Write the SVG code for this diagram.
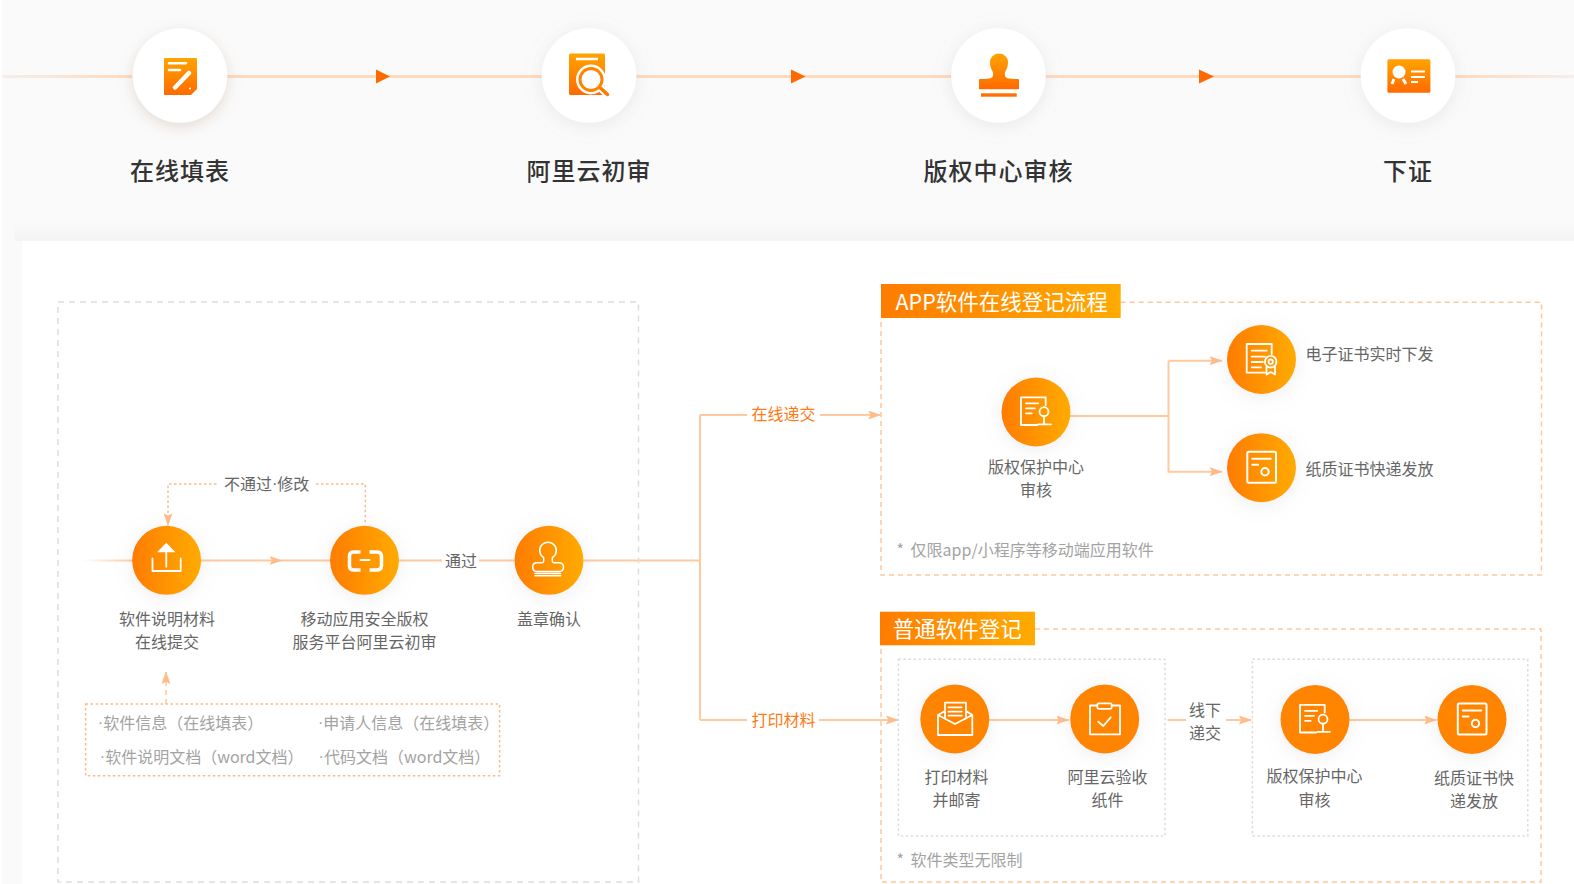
<svg xmlns="http://www.w3.org/2000/svg" width="1574" height="884" viewBox="0 0 1574 884">
<style>
text{font-family:"Noto Sans CJK SC","Noto Sans",sans-serif;dominant-baseline:central}
.m{text-anchor:middle}
.top{font-size:24px;letter-spacing:1px;fill:#333;font-weight:500;text-anchor:middle}
.lb{font-size:16px;fill:#666}
.gr{font-size:16px;fill:#a3a3a3}
.nt{word-spacing:3px}
.or{font-size:16px;fill:#ff7a14}
.ti{font-size:21.5px;fill:#fff}
.dot{font-family:"Liberation Sans",sans-serif}
.c{fill:none;stroke:#ffc9a0;stroke-width:2}
.tl{fill:none;stroke:#ffd9bc;stroke-width:3}
.ah{fill:#ffbb8a}
.at{fill:#ff6a00}
.ic{fill:none;stroke:#fff;stroke-width:1.800;stroke-linecap:round;stroke-linejoin:round}
.icf{fill:#fff}
.d1{fill:none;stroke:#ddd;stroke-width:1.5;stroke-dasharray:6 5}
.d2{fill:none;stroke:#ffc79c;stroke-width:1.5;stroke-dasharray:5 4}
.d3{fill:none;stroke:#ddd;stroke-width:1.5;stroke-dasharray:2.5 2.5}
.d4{fill:none;stroke:#ffb888;stroke-width:1.5;stroke-dasharray:2.5 2.5}
</style>
<defs>
<linearGradient id="gh"><stop offset="0" stop-color="#ff7c00"/><stop offset="1" stop-color="#ffab00"/></linearGradient>
<linearGradient id="gv" x1="0" y1="0" x2="0" y2="1"><stop offset="0" stop-color="#ffa400"/><stop offset="1" stop-color="#ff6a00"/></linearGradient>
<linearGradient id="fl"><stop offset="0" stop-color="#f6eee8"/><stop offset="1" stop-color="#ffd9bc"/></linearGradient>
<linearGradient id="fr"><stop offset="0" stop-color="#ffd9bc"/><stop offset="1" stop-color="#f6eee8"/></linearGradient>
<linearGradient id="fs"><stop offset="0" stop-color="#ffc9a0" stop-opacity="0"/><stop offset="1" stop-color="#ffc9a0"/></linearGradient>
<linearGradient id="sh" x1="0" y1="0" x2="0" y2="1"><stop offset="0" stop-color="#f4f4f4" stop-opacity="0"/><stop offset="1" stop-color="#f4f4f4"/></linearGradient>
<filter id="s1" x="-40%" y="-40%" width="180%" height="190%"><feDropShadow dx="0" dy="4" stdDeviation="7" flood-color="#b08a6a" flood-opacity=".28"/></filter>
<filter id="s2" x="-50%" y="-50%" width="200%" height="200%"><feDropShadow dx="0" dy="3" stdDeviation="9" flood-color="#999" flood-opacity=".18"/></filter>
<marker id="a" markerUnits="userSpaceOnUse" markerWidth="13" markerHeight="9" refX="12.500" refY="4.500" orient="auto"><path class="ah" d="M0 0L13 4.500L0 9L2.500 4.500z"/></marker>
<g id="i-cr"><path class="ic" d="M9.700-7V-14.700H-15V13H1.300M-10-8.700H2.300M-10-3.700H-1M-10 1.300H-4.300M2.300 12.300H15"/><circle class="ic" cx="8" cy="-.3" r="4.500"/><path class="ic" d="M8 4.200V12"/></g>
<g id="i-pa"><rect class="ic" style="stroke-width:2" x="-14.200" y="-16" width="28.700" height="31" rx="1.500"/><path class="ic" style="stroke-width:2" d="M-9.200-9H9.200M-9.200-3H-3.500"/><circle class="ic" style="stroke-width:2" cx="3.500" cy="4" r="3.700"/></g>
</defs>
<rect width="1574" height="884" fill="#fafafa"/>
<rect width="2" height="884" fill="#fff"/>
<rect x="14" y="222" width="1560" height="19" fill="url(#sh)"/>
<rect x="22" y="241" width="1552" height="643" fill="#fff"/>

<g id="connectors">
<rect x="2" y="75" width="130" height="3" fill="url(#fl)"/>
<path class="tl" d="M227 76.500H951.500"/>
<path class="tl" d="M1045 76.500H1361"/>
<rect x="1455" y="75" width="119" height="3" fill="url(#fr)"/>
<path class="at" d="M376 69.500L390 76.500L376 83.500z"/>
<path class="at" d="M791 69.500L805.500 76.500L791 83.500z"/>
<path class="at" d="M1199 69.500L1214 76.500L1199 83.500z"/>
<rect x="82" y="559.500" width="50" height="2" fill="url(#fs)"/>
<path class="c" d="M201 560.500H282" marker-end="url(#a)"/>
<path class="c" d="M282 560.500H330"/>
<path class="c" d="M399 560.500H442M479 560.500H514"/>
<path class="c" d="M583.500 560.500H700"/>
<path class="c" d="M700 415V720"/>
<path class="c" d="M700 415H747"/>
<path class="c" d="M820 415H880.700" marker-end="url(#a)"/>
<path class="c" d="M700 720H747"/>
<path class="c" d="M819 720H898.400" marker-end="url(#a)"/>
<path class="c" d="M1070 416H1168.500"/>
<path class="c" d="M1168.500 360.700V471.700H1222" marker-end="url(#a)"/>
<path class="c" d="M1168.500 360.700H1222" marker-end="url(#a)"/>
<path class="c" d="M989 720H1068.800" marker-end="url(#a)"/>
<path class="c" d="M1167.500 720H1186"/>
<path class="c" d="M1226 720H1251.300" marker-end="url(#a)"/>
<path class="c" d="M1349 720H1436.600" marker-end="url(#a)"/>
<path class="d4" d="M216.500 484H168V525.700" marker-end="url(#a)"/>
<path class="d4" d="M316 484H365.300V525"/>
<path class="d2" d="M166 704V671.700" marker-end="url(#a)"/>
</g>

<g id="box-left"><rect class="d1" x="58" y="302" width="580.500" height="580"/></g>
<g id="box-app"><path class="d2" d="M1120.700 302.300H1541.500V575H881V318"/></g>
<g id="box-normal"><path class="d2" d="M1035 629H1541V882H881V645"/></g>
<g id="box-print"><rect class="d3" x="898.400" y="659.300" width="266.600" height="176.700"/></g>
<g id="box-center"><rect class="d3" x="1252.400" y="659.300" width="275.400" height="176.700"/></g>

<g id="step1"><circle cx="180" cy="75.500" r="47.300" fill="#fff" filter="url(#s1)"/>
<path fill="url(#gv)" d="M165 58H196Q197 58 197 59V89L191 95H165Q164 95 164 94V59Q164 58 165 58z"/>
<path d="M169 63.300H186M169 70H180" stroke="#fff" stroke-width="2.500" stroke-linecap="round"/><path d="M175 87.500L189 73" stroke="#fff" stroke-width="4.500" stroke-linecap="round"/><circle cx="190" cy="88.500" r="1" fill="#fff"/>
<text class="top" x="180" y="169.500">在线填表</text></g>
<g id="step2"><circle cx="589" cy="75.500" r="47.300" fill="#fff" filter="url(#s2)"/>
<rect x="569" y="53.500" width="36" height="41.500" rx="1.500" fill="url(#gv)"/>
<path d="M576 59H598" stroke="#fff" stroke-width="2.500"/><circle cx="591" cy="79.500" r="15" fill="#fff"/><path d="M601 88L606 93" stroke="#fff" stroke-width="8"/><circle cx="591" cy="79.500" r="11" fill="#fff" stroke="#ff8200" stroke-width="3"/><path d="M600.500 88L607.500 94.500" stroke="#ff7a00" stroke-width="3.500" stroke-linecap="round"/>
<text class="top" x="589" y="169.500">阿里云初审</text></g>
<g id="step3"><circle cx="998.500" cy="75.500" r="47.300" fill="#fff" filter="url(#s2)"/>
<path fill="url(#gv)" d="M990 62A9 8.500 0 0 1 1008 62C1008 70 1004 71 1005 75C1005 78 1007 79 1018 79Q1019 79 1019 80V89.300H979V80Q979 79 980 79C991 79 993 78 993 75C994 71 990 70 990 62z"/>
<rect x="981" y="93.300" width="35.700" height="3.400" fill="#ff7000"/>
<text class="top" x="998.500" y="169.500">版权中心审核</text></g>
<g id="step4"><circle cx="1408" cy="75.500" r="47.300" fill="#fff" filter="url(#s2)"/>
<rect x="1387.400" y="59.300" width="43" height="33.400" rx="1.500" fill="url(#gv)"/>
<circle cx="1399" cy="72" r="6.500" fill="#fff"/><path d="M1394 79L1392 84M1403 79L1406 84" stroke="#fff" stroke-width="3"/><path d="M1411 71.500H1425M1411 77H1425M1411 82H1418" stroke="#fff" stroke-width="2"/>
<text class="top" x="1408" y="169.500">下证</text></g>

<g id="n-upload"><circle cx="166.600" cy="560.300" r="34.500" fill="url(#gh)" filter="url(#s2)"/>
<path class="ic" d="M152.500 558.300V571H180.700V558.300M166.300 566.700V551"/><path class="icf" d="M166.300 542.700L175.500 552.300H157z"/>
<text class="lb m" x="167" y="617.500">软件说明材料</text><text class="lb m" x="167" y="640.500">在线提交</text></g>
<g id="n-aliyun"><circle cx="364.500" cy="560.300" r="34.500" fill="url(#gh)" filter="url(#s2)"/>
<path class="ic" style="stroke-width:3.500;stroke-linecap:butt" d="M360.500 552H354Q349.500 552 349.500 556V566Q349.500 570 354 570H360.500M369.500 552H376Q381.500 552 381.500 556V566Q381.500 570 376 570H369.500"/><path class="ic" style="stroke-width:2" d="M360.500 560H369.500"/>
<text class="lb m" x="364.600" y="617.500">移动应用安全版权</text><text class="lb m" x="364.600" y="640.500">服务平台阿里云初审</text></g>
<g id="n-stamp"><circle cx="549" cy="560.300" r="34.500" fill="url(#gh)" filter="url(#s2)"/>
<path class="ic" d="M543.500 557.500A8.300 8.300 0 1 1 552.500 557.500C552 560 552 562.700 554 562.700H559Q563.500 562.700 563.500 567Q563.500 571.500 559 571.500H537Q532.700 571.500 532.700 567Q532.700 562.700 537 562.700H542C544 562.700 544 560 543.500 557.500zM535 573.500H560.700M535 575.700H560.700" style="stroke-width:1.500"/>
<text class="lb m" x="549" y="617.500">盖章确认</text></g>

<g id="input-box"><rect class="d4" x="85.600" y="704" width="414" height="71.700"/>
<text class="gr" x="97.800" y="722"><tspan class="dot">·</tspan>软件信息（在线填表）</text>
<text class="gr" x="318" y="722"><tspan class="dot">·</tspan>申请人信息（在线填表）</text>
<text class="gr" x="99.800" y="756"><tspan class="dot">·</tspan>软件说明文档（word文档）</text>
<text class="gr" x="318.600" y="756"><tspan class="dot">·</tspan>代码文档（word文档）</text></g>

<g id="labels"><text class="lb m" x="266.600" y="483">不通过<tspan class="dot">·</tspan>修改</text>
<text class="lb m" x="461" y="559.500">通过</text>
<text class="or m" x="783.500" y="413">在线递交</text>
<text class="or m" x="783.500" y="719">打印材料</text>
<text class="lb m" x="1205" y="708.500">线下</text><text class="lb m" x="1205" y="731.500">递交</text></g>

<g id="title-app"><rect x="881" y="284" width="239.700" height="34" fill="url(#gh)"/><text class="ti" x="895.500" y="300.500">APP软件在线登记流程</text></g>
<g id="n-app-center"><circle cx="1036" cy="412" r="34.500" fill="url(#gh)" filter="url(#s2)"/><use href="#i-cr" x="1036" y="412"/>
<text class="lb m" x="1036" y="466.200">版权保护中心</text><text class="lb m" x="1036" y="489.200">审核</text></g>
<g id="n-ecert"><circle cx="1261.500" cy="359.500" r="34.500" fill="url(#gh)" filter="url(#s2)"/>
<path class="ic" d="M1271.700 354V344H1246.700V372.700H1265M1251.700 350.700H1266.700M1251.700 356.700H1265M1251.700 362H1263M1251.700 367.300H1261"/><circle class="ic" cx="1270.700" cy="361.700" r="5.800"/><circle class="ic" cx="1270.700" cy="361.700" r="2.200"/><path class="ic" d="M1266.500 367V374.500L1270.700 372L1275 374.500V367"/>
<text class="lb" x="1305.400" y="352.500">电子证书实时下发</text></g>
<g id="n-paper"><circle cx="1261.500" cy="467.700" r="34.500" fill="url(#gh)" filter="url(#s2)"/><use href="#i-pa" x="1261.500" y="467.700"/>
<text class="lb" x="1305.400" y="467.500">纸质证书快递发放</text></g>
<text class="gr nt" x="896.500" y="548.500">* 仅限app/小程序等移动端应用软件</text>

<g id="title-normal"><rect x="880" y="611.700" width="155" height="33.600" fill="url(#gh)"/><text class="ti" x="892.700" y="627.500">普通软件登记</text></g>
<g id="n-print"><circle cx="954.800" cy="719" r="34.500" fill="#ff8500" filter="url(#s2)"/>
<path class="ic" d="M938 715V735H972.300V715L955 724zM938 715L945 711M972.300 715L966 711M945 718.500V702.700H966V718.500M948.500 707.300H961.700M948.500 711.700H961.700M948.500 715.700H961.700"/>
<text class="lb m" x="956.500" y="775.800">打印材料</text><text class="lb m" x="956.500" y="799.200">并邮寄</text></g>
<g id="n-accept"><circle cx="1104.700" cy="719" r="34.500" fill="#ff8500" filter="url(#s2)"/>
<path class="ic" d="M1097.300 705.500H1090V734.300H1120V705.500H1111.700M1098.300 721.700L1103.300 726L1110.700 717.300"/><rect class="ic" x="1097.300" y="703.300" width="14.400" height="5.500" rx="1.500"/>
<text class="lb m" x="1107.600" y="775.800">阿里云验收</text><text class="lb m" x="1107.600" y="799.200">纸件</text></g>
<g id="n-center2"><circle cx="1315" cy="719.500" r="34.500" fill="#ff8500" filter="url(#s2)"/><use href="#i-cr" x="1315" y="719.500"/>
<text class="lb m" x="1314.600" y="775.200">版权保护中心</text><text class="lb m" x="1314.600" y="798.500">审核</text></g>
<g id="n-paper2"><circle cx="1472" cy="719.500" r="34.500" fill="#ff8500" filter="url(#s2)"/><use href="#i-pa" x="1472" y="719.500"/>
<text class="lb m" x="1474" y="776.500">纸质证书快</text><text class="lb m" x="1474" y="799.500">递发放</text></g>
<text class="gr nt" x="896.500" y="858.500">* 软件类型无限制</text>
</svg>
